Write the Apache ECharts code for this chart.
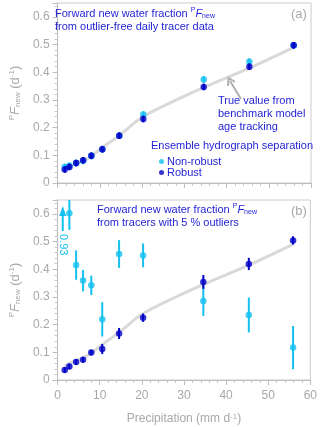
<!DOCTYPE html>
<html>
<head>
<meta charset="utf-8">
<script src="https://cdn.jsdelivr.net/npm/echarts@6/dist/echarts.min.js"></script>
<style>
  html, body { margin: 0; padding: 0; background: #fff; }
  #chart { width: 320px; height: 427px; }
</style>
</head>
<body>
<div id="chart"></div>
<script>
// precipitation bins (mm/d)
var precip = [1.7, 2.8, 4.4, 6.05, 8.0, 10.6, 14.6, 20.3, 34.6, 45.4, 55.9];
// benchmark (true) values, same in both panels
var trueVals = [0.05, 0.06, 0.07, 0.08, 0.097, 0.128, 0.172, 0.24, 0.345, 0.415, 0.49];

// panel (a): outlier-free data
var robustA = [0.049, 0.058, 0.072, 0.082, 0.098, 0.122, 0.171, 0.231, 0.347, 0.42, 0.497];
var robustErrA = [0.012, 0.012, 0.012, 0.012, 0.012, 0.012, 0.012, 0.012, 0.012, 0.012, 0.012];
var nonRobustA = [0.058, 0.062, 0.072, 0.08, 0.098, 0.122, 0.171, 0.247, 0.374, 0.438, 0.497];
var nonRobustErrA = [0.012, 0.012, 0.012, 0.012, 0.012, 0.012, 0.012, 0.012, 0.012, 0.012, 0.012];

// panel (b): 5 % outliers
var robustB = [0.036, 0.049, 0.065, 0.073, 0.099, 0.112, 0.168, 0.225, 0.354, 0.419, 0.504];
var robustErrB = [0.01, 0.01, 0.01, 0.01, 0.01, 0.018, 0.02, 0.015, 0.025, 0.022, 0.015];
var nonRobustB = [0.93, 0.602, 0.415, 0.359, 0.342, 0.219, 0.455, 0.45, 0.285, 0.235, 0.117];
var nonRobustErrB = [0, 0.06, 0.053, 0.039, 0.035, 0.062, 0.05, 0.043, 0.054, 0.063, 0.078];

var xTicks = [0, 10, 20, 30, 40, 50, 60];
var yTicks = [0, 0.1, 0.2, 0.3, 0.4, 0.5, 0.6];
var yMax = 0.65;

var DARK = '#0000c8';
var CYAN = '#14c0f0';
var TEXT = '#1f1fd6';
var GREY = '#a8a8a8';
var FONT = 'Liberation Sans, Arial, sans-serif';

function pairs(ys) {
    return precip.map(function (x, i) { return [x, ys[i]]; });
}

function errorBars(idx, ys, es, color, z) {
    var data = [];
    for (let i = 0; i < precip.length; i++) {
        if (es[i] > 0 && ys[i] <= yMax) data.push([precip[i], ys[i] - es[i], ys[i] + es[i]]);
    }
    return {
        type: 'custom',
        xAxisIndex: idx,
        yAxisIndex: idx,
        clip: true,
        silent: true,
        z: z,
        data: data,
        encode: { x: 0, y: [1, 2] },
        renderItem: function (params, api) {
            var lo = api.coord([api.value(0), api.value(1)]);
            var hi = api.coord([api.value(0), api.value(2)]);
            return {
                type: 'line',
                shape: { x1: lo[0], y1: lo[1], x2: hi[0], y2: hi[1] },
                style: { stroke: color, lineWidth: 2 }
            };
        }
    };
}

// off-scale values get an up arrow with the value written below
function offScale(idx, ys, color) {
    var data = [];
    for (let i = 0; i < precip.length; i++) {
        if (ys[i] > yMax) data.push([precip[i], ys[i]]);
    }
    return {
        type: 'custom',
        xAxisIndex: idx,
        yAxisIndex: idx,
        silent: true,
        z: 5,
        data: data,
        encode: { x: 0, y: 1 },
        renderItem: function (params, api) {
            var top = api.coord([api.value(0), yMax]);
            var x = top[0] - 2;
            var y0 = top[1] + 6;
            return {
                type: 'group',
                children: [
                    { type: 'line', shape: { x1: x, y1: y0 + 6, x2: x, y2: y0 + 25 }, style: { stroke: color, lineWidth: 2 } },
                    { type: 'polygon', shape: { points: [[x, y0], [x - 3.5, y0 + 10], [x + 3.5, y0 + 10]] }, style: { fill: color } },
                    { type: 'text', x: x, y: y0 + 28, rotation: -Math.PI / 2,
                      style: { text: api.value(1).toFixed(2), fill: color, font: '11px ' + FONT, align: 'left', verticalAlign: 'middle' } }
                ]
            };
        }
    };
}

var yName = '{sup|P}{it|F}{sub|new} (d{sup|-1})';
var nameRich = {
    sup: { fontSize: 8, verticalAlign: 'top', color: GREY, fontFamily: FONT },
    sub: { fontSize: 8, verticalAlign: 'bottom', color: GREY, fontFamily: FONT, padding: [6, 0, 0, 0] },
    it: { fontSize: 13, fontStyle: 'italic', color: GREY, fontFamily: FONT }
};

function makeX(idx, showLabels) {
    return {
        type: 'value',
        gridIndex: idx,
        min: xTicks[0],
        max: xTicks[xTicks.length - 1],
        interval: 10,
        axisLine: { show: true, lineStyle: { color: '#bdbdbd', width: 1 } },
        axisTick: { show: true, length: 5, lineStyle: { color: '#bdbdbd' } },
        minorTick: { show: true, splitNumber: 5, length: 3, lineStyle: { color: '#c8c8c8' } },
        splitLine: { show: false },
        axisLabel: { show: showLabels, color: GREY, fontSize: 12, fontFamily: FONT, margin: 10 },
        name: showLabels ? '{b|Precipitation (mm d}{sup|-1}{b|)}' : '',
        nameLocation: 'middle',
        nameGap: 33,
        nameTextStyle: {
            color: GREY,
            rich: {
                b: { fontSize: 12, color: GREY, fontFamily: FONT },
                sup: { fontSize: 8, verticalAlign: 'top', color: GREY, fontFamily: FONT }
            }
        }
    };
}

function makeY(idx) {
    return {
        type: 'value',
        gridIndex: idx,
        min: 0,
        max: yMax,
        interval: 0.1,
        axisLine: { show: true, lineStyle: { color: '#bdbdbd', width: 1 } },
        axisTick: { show: true, length: 5, lineStyle: { color: '#bdbdbd' } },
        minorTick: { show: true, splitNumber: 5, length: 3, lineStyle: { color: '#c8c8c8' } },
        splitLine: { show: false },
        axisLabel: {
            color: GREY, fontSize: 12, fontFamily: FONT, margin: 8, showMaxLabel: false,
            formatter: function (v) { return v === 0 ? '0' : v.toFixed(1); }
        },
        name: yName,
        nameLocation: 'middle',
        nameGap: 33,
        nameTextStyle: { color: GREY, fontSize: 13, fontFamily: FONT, rich: nameRich }
    };
}

function trueLine(idx) {
    return {
        type: 'line',
        xAxisIndex: idx,
        yAxisIndex: idx,
        data: pairs(trueVals),
        showSymbol: false,
        smooth: 0.3,
        silent: true,
        z: 1,
        lineStyle: { color: '#d9d9d9', width: 3 }
    };
}

function dots(idx, name, ys, color, z) {
    return {
        type: 'scatter',
        name: name,
        xAxisIndex: idx,
        yAxisIndex: idx,
        data: pairs(ys),
        symbol: 'circle',
        symbolSize: 6.5,
        z: z,
        itemStyle: { color: color }
    };
}

// graphic text uses zrender style names (fill, not color)
var titleRich = {
    t: { fontSize: 11, fill: TEXT, fontFamily: FONT },
    sup: { fontSize: 7, verticalAlign: 'top', fill: TEXT, fontFamily: FONT },
    it: { fontSize: 11, fontStyle: 'italic', fill: TEXT, fontFamily: FONT },
    sub: { fontSize: 7, verticalAlign: 'bottom', fill: TEXT, fontFamily: FONT, padding: [5, 0, 0, 0] }
};

function label(x, y, text, size, color) {
    return {
        type: 'text', left: x, top: y, z: 10,
        style: { text: text, fill: color, font: size + 'px ' + FONT, lineHeight: Math.round(size * 1.15) }
    };
}

var option = {
    animation: false,
    textStyle: { fontFamily: FONT },
    grid: [
        { left: 50, top: 3, width: 261, height: 180, show: true, borderColor: '#cccccc', borderWidth: 1 },
        { left: 50, top: 200, width: 261, height: 180, show: true, borderColor: '#cccccc', borderWidth: 1 }
    ],
    xAxis: [makeX(0, false), makeX(1, true)],
    yAxis: [makeY(0), makeY(1)],
    legend: {
        data: ['Non-robust', 'Robust'],
        orient: 'vertical',
        left: 154,
        top: 151,
        itemWidth: 5,
        itemHeight: 5,
        itemGap: 0,
        icon: 'circle',
        textStyle: { color: TEXT, fontSize: 11, fontFamily: FONT, padding: [0, 0, 0, -2] }
    },
    graphic: [
        {
            type: 'text', left: 55, top: 7, z: 10,
            style: {
                text: '{t|Forward new water fraction }{sup|P}{it|F}{sub|new}\n{t|from outlier-free daily tracer data}',
                rich: titleRich, lineHeight: 13
            }
        },
        {
            type: 'text', left: 97, top: 203, z: 10,
            style: {
                text: '{t|Forward new water fraction }{sup|P}{it|F}{sub|new}\n{t|from tracers with 5 % outliers}',
                rich: titleRich, lineHeight: 13
            }
        },
        label(291, 7, '(a)', 13, GREY),
        label(291, 204, '(b)', 13, GREY),
        label(218, 94, 'True value from\nbenchmark model\nage tracking', 11, TEXT),
        label(151, 139, 'Ensemble hydrograph separation', 11, TEXT),
        // pointer from the note to the benchmark line
        { type: 'line', z: 10, shape: { x1: 241, y1: 99, x2: 230, y2: 81 }, style: { stroke: '#b0b0b0', lineWidth: 2 } },
        { type: 'polyline', z: 10, shape: { points: [[228, 86], [228.5, 78], [235, 82]] }, style: { stroke: '#b0b0b0', lineWidth: 2, fill: null } }
    ],
    series: [
        trueLine(0),
        errorBars(0, nonRobustA, nonRobustErrA, CYAN, 2),
        dots(0, 'Non-robust', nonRobustA, CYAN, 3),
        errorBars(0, robustA, robustErrA, DARK, 4),
        dots(0, 'Robust', robustA, DARK, 5),

        trueLine(1),
        errorBars(1, nonRobustB, nonRobustErrB, CYAN, 2),
        dots(1, 'Non-robust', nonRobustB, CYAN, 3),
        offScale(1, nonRobustB, CYAN),
        errorBars(1, robustB, robustErrB, DARK, 4),
        dots(1, 'Robust', robustB, DARK, 5)
    ]
};

var myChart = echarts.init(document.getElementById('chart'));
myChart.setOption(option);
</script>
</body>
</html>
